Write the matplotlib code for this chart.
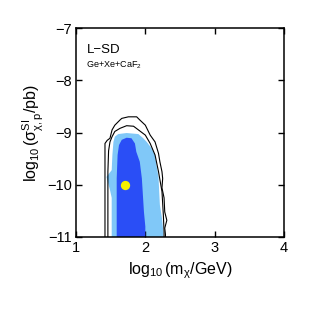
import numpy as np
import matplotlib
matplotlib.use("Agg")
import matplotlib.pyplot as plt

plt.rcParams['font.family'] = ['Liberation Sans', 'DejaVu Sans']
plt.rcParams['mathtext.fontset'] = 'custom'
plt.rcParams['mathtext.rm'] = 'Liberation Sans'
plt.rcParams['mathtext.it'] = 'Liberation Sans:italic'
plt.rcParams['mathtext.default'] = 'regular'

# contour outlines (log10 m, log10 sigma)
outer_x = [1.418, 1.418, 1.45, 1.49, 1.52, 1.56, 1.635, 1.66, 1.755, 1.875, 1.92, 2.0, 2.07, 2.14,
           2.19, 2.21, 2.24, 2.25, 2.24, 2.27, 2.28, 2.31, 2.28, 2.29, 2.29]
outer_y = [-11.2, -9.21, -9.15, -9.11, -8.95, -8.86, -8.76, -8.73, -8.70, -8.70, -8.76, -8.86, -9.05, -9.18,
           -9.40, -9.56, -9.75, -9.88, -10.06, -10.25, -10.52, -10.68, -10.83, -10.95, -11.2]

inner_x = [1.46, 1.46, 1.47, 1.49, 1.52, 1.56, 1.635, 1.73, 1.83, 1.90, 2.0, 2.07, 2.14, 2.19, 2.24, 2.26, 2.27, 2.27]
inner_y = [-11.2, -9.75, -9.35, -9.18, -9.08, -8.98, -8.92, -8.87, -8.88, -8.95, -9.05, -9.21, -9.43, -9.75, -10.13, -10.58, -10.9, -11.2]

light_x = [1.515, 1.515, 1.49, 1.44, 1.515, 1.525, 1.54, 1.56, 1.61, 1.73, 1.90, 1.97, 2.02, 2.09, 2.14, 2.16,
           2.19, 2.20, 2.21, 2.24, 2.26, 2.26]
light_y = [-11.2, -10.25, -10.1, -9.85, -9.72, -9.43, -9.18, -9.08, -9.03, -9.01, -9.03, -9.11, -9.18, -9.30, -9.43, -9.62,
           -9.85, -10.13, -10.39, -10.64, -10.9, -11.2]

dark_x = [1.587, 1.587, 1.60, 1.62, 1.66, 1.73, 1.80, 1.85, 1.87, 1.92, 1.95, 1.965, 1.98, 2.0, 2.0]
dark_y = [-11.2, -9.88, -9.43, -9.24, -9.14, -9.10, -9.11, -9.21, -9.37, -9.56, -9.88, -10.2, -10.52, -10.8, -11.2]

best_fit = (1.70, -10.0)

fig = plt.figure(figsize=(3.13, 3.13), dpi=100)
ax = fig.add_axes([76/313, 1 - 237/313, 208/313, 209/313])

ax.fill(light_x, light_y, color='#80c8f8', lw=0, zorder=1)
ax.fill(dark_x, dark_y, color='#2a4ef6', lw=0, zorder=2)
ax.plot(outer_x, outer_y, color='black', lw=0.8, zorder=3)
ax.plot(inner_x, inner_y, color='black', lw=0.8, zorder=3)
ax.plot(*best_fit, 'o', color='#f5f000', ms=6.7, mec='none', zorder=4)

ax.set_xlim(1, 4)
ax.set_ylim(-11, -7)
ax.set_xticks([1, 2, 3, 4])
ax.set_yticks([-11, -10, -9, -8, -7])
ax.set_yticklabels(['\u221211', '\u221210', '\u22129', '\u22128', '\u22127'])
ax.tick_params(direction='in', length=4, width=1, top=True, right=True, labelsize=10.5, pad=3)
for s in ax.spines.values():
    s.set_linewidth(1.1)

ax.set_xlabel(r'$\log_{10}(m_{\chi}/GeV)$', fontsize=11.5, labelpad=4)
ax.set_ylabel(r'$\log_{10}(\sigma^{SI}_{\chi,p}/pb)$', fontsize=11.5, labelpad=1)

ax.text(1.155, -7.42, 'L\u2212SD', fontsize=9.5, va='center')
ax.text(1.15, -7.72, r'Ge+Xe+CaF$_2$', fontsize=6.5, va='center')

fig.savefig('out.png', dpi=100)
